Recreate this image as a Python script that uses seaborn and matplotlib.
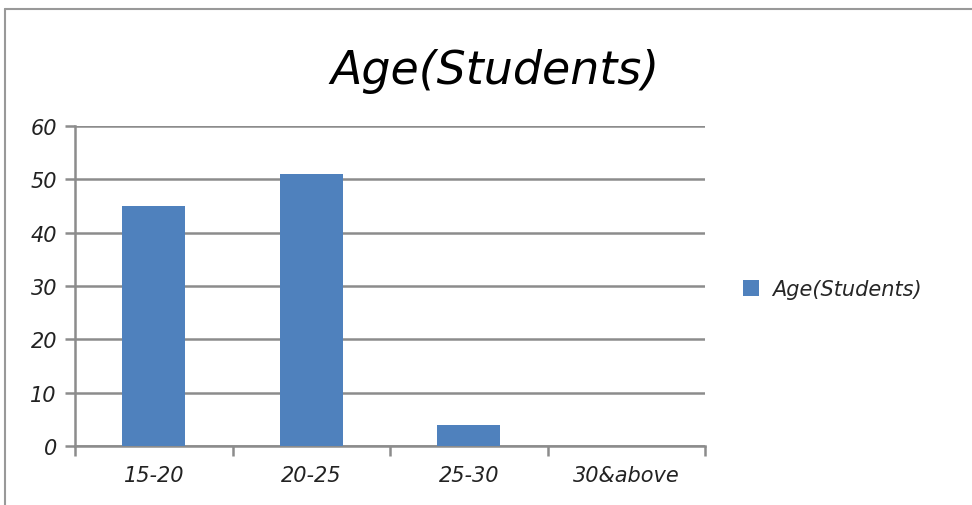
import seaborn as sns
import matplotlib.pyplot as plt
import pandas as pd
from matplotlib.lines import Line2D

age_groups = ['15-20', '20-25', '25-30', '30&above']
students = [45, 51, 4, 0]
y_ticks = [0, 10, 20, 30, 40, 50, 60]
series_name = 'Age(Students)'

data = pd.DataFrame({'Age': age_groups, 'Students': students})

sns.set_theme(style='white')
plt.rcParams['font.family'] = ['Liberation Sans Narrow', 'DejaVu Sans']
plt.rcParams['font.style'] = 'italic'

fig = plt.figure(figsize=(9.72, 5.06), dpi=100)
ax = fig.add_axes([0.0772, 0.1166, 0.6481, 0.6324])
ax.set_axisbelow(True)

sns.barplot(data=data, x='Age', y='Students', color='#4f81bd', width=0.4,
            saturation=1, linewidth=0, ax=ax, label=series_name, zorder=3)

ax.set_ylim(0, 60)
ax.set_xlim(-0.5, 3.5)
ax.set_yticks(y_ticks)
ax.yaxis.grid(True, color='#8c8c8c', linewidth=1.8, zorder=0)
ax.set_xlabel('')
ax.set_ylabel('')
for side in ['top', 'right']:
    ax.spines[side].set_visible(False)
for side in ['left', 'bottom']:
    ax.spines[side].set_color('#8c8c8c')
    ax.spines[side].set_linewidth(1.8)

# ticks: outward on y, at category boundaries on x
ax.tick_params(axis='y', which='both', left=True, length=7, width=1.8,
               color='#8c8c8c', labelsize=15, labelcolor='#222222', pad=6)
ax.set_xticks([0, 1, 2, 3])
ax.set_xticks([-0.5, 0.5, 1.5, 2.5, 3.5], minor=True)
ax.tick_params(axis='x', which='major', length=0, labelsize=15,
               labelcolor='#222222', pad=14)
ax.tick_params(axis='x', which='minor', bottom=True, length=7, width=1.8,
               color='#8c8c8c')

fig.text(0.509, 0.858, series_name, ha='center', va='center', fontsize=33,
         color='black')

ax.legend(loc='center left', bbox_to_anchor=(1.03, 0.49), frameon=False,
          fontsize=15, handlelength=0.8, handleheight=0.8, handletextpad=0.6)

# outer chart frame
fig.add_artist(Line2D([0.005, 1.0], [0.98, 0.98], color='#999999', lw=1.5))
fig.add_artist(Line2D([0.005, 0.005], [0.0, 0.98], color='#999999', lw=1.5))

plt.savefig('out.png', dpi=100)
